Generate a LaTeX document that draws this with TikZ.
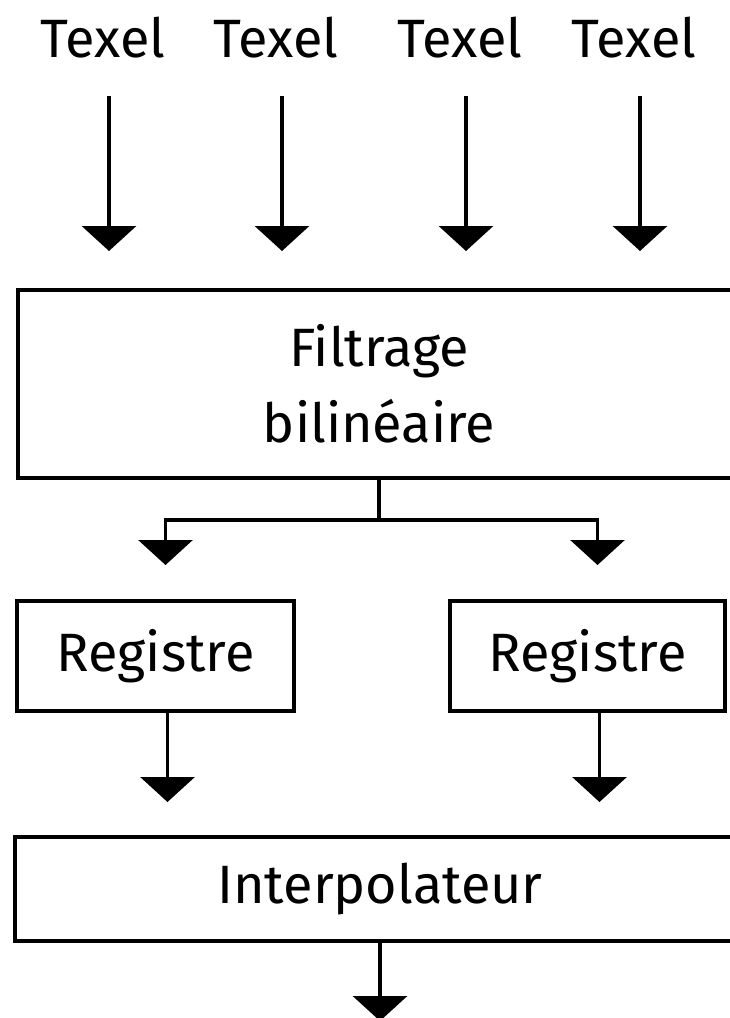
\documentclass[tikz,border=0pt]{standalone}
\usepackage{fontspec}
\setmainfont{Fira Sans}
\usetikzlibrary{arrows.meta}

\tikzset{
  lbl/.style={font=\fontsize{54}{70}\selectfont, inner sep=0pt},
  blockbox/.style={draw, line width=4pt, font=\fontsize{54}{70}\selectfont,
    align=center, inner sep=0pt},
  wire/.style={line width=3.5pt},
  arr/.style={wire, -{Triangle[width=54pt,length=25pt]}}
}

\begin{document}
\begin{tikzpicture}[x=1pt,y=-1pt]
  \useasboundingbox[fill=white] (0,0) rectangle (729,1018);

  % input texels
  \node[lbl, anchor=base] (t1) at (103,57) {Texel};
  \node[lbl, anchor=base] (t2) at (276,57) {Texel};
  \node[lbl, anchor=base] (t3) at (460,57) {Texel};
  \node[lbl, anchor=base] (t4) at (634,57) {Texel};

  % processing blocks
  \node[blockbox, minimum width=722pt, minimum height=188pt] (filt) at (379,384)
    {Filtrage\\[6pt]bilinéaire};
  \node[blockbox, minimum width=277pt, minimum height=110pt] (r1) at (155.5,656) {Registre};
  \node[blockbox, minimum width=275pt, minimum height=110pt] (r2) at (587.5,656) {Registre};
  \node[blockbox, minimum width=730pt, minimum height=104pt] (interp) at (380,889) {Interpolateur};
  \coordinate (out) at (380,1021);

  % texels into the filter
  \foreach \t in {t1,t2,t3,t4}{
    \draw[arr, shorten <=38pt, shorten >=37pt]
      ([xshift=6pt]\t.south) -- ([xshift=6pt]\t.south |- filt.north);
  }

  % filter output split towards both registers
  \draw[arr, shorten >=34pt] (filt.south) -- ++(0,40) -| ([xshift=10pt]r1.north);
  \draw[arr, shorten >=34pt] (filt.south) -- ++(0,40) -| ([xshift=10pt]r2.north);

  % registers into the interpolator
  \draw[arr, shorten >=33pt] ([xshift=12pt]r1.south) -- ([xshift=12pt]r1.south |- interp.north);
  \draw[arr, shorten >=33pt] ([xshift=12pt]r2.south) -- ([xshift=12pt]r2.south |- interp.north);

  % result
  \draw[arr] (interp.south) -- (out);
\end{tikzpicture}
\end{document}
